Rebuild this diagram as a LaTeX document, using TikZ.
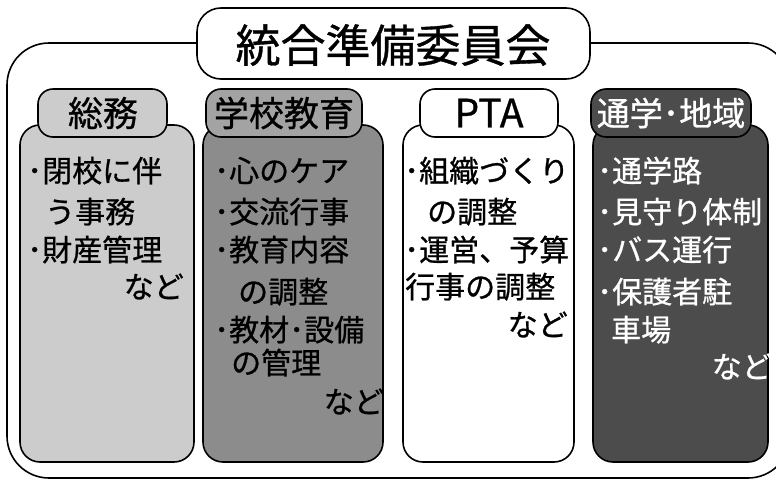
\documentclass[tikz,border=0pt]{standalone}
\usepackage{fontspec}
\newfontfamily\jp[FakeBold=0.8]{Noto Sans CJK JP}
\begin{document}
\begin{tikzpicture}[x=1pt,y=-1pt,
  frame/.style={line width=1.6pt,rounded corners=42pt},
  titlebox/.style={draw,line width=1.6pt,rounded corners=24pt,fill=white},
  bodybox/.style={draw,line width=1.6pt,rounded corners=20pt},
  labelbox/.style={draw,line width=1.6pt,rounded corners=15pt},
  item/.style={anchor=base west,inner sep=0pt,font=\jp\fontsize{30}{36}\selectfont},
  itemr/.style={anchor=base east,inner sep=0pt,font=\jp\fontsize{30}{36}\selectfont},
  lbl/.style={inner sep=0pt,font=\jp\fontsize{35}{40}\selectfont},
]
\useasboundingbox (0,0) rectangle (776,479);
\clip (0,0) rectangle (776,479);
\definecolor{colA}{gray}{0.80}
\definecolor{colB}{gray}{0.55}
\definecolor{colD}{gray}{0.30}
% outer frame
\draw[frame] (7,43) rectangle (790,478);
% title
\draw[titlebox] (197,8) rectangle (590,79);
\node[inner sep=0pt,font=\jp\fontsize{45}{50}\selectfont] (title) at (393,45) {統合準備委員会};
% bodies
\draw[bodybox,fill=colA] (20,125) rectangle (194,462);
\draw[bodybox,fill=colB] (203,125) rectangle (383,462);
\draw[bodybox,fill=white] (403,125) rectangle (574,462);
\draw[bodybox,fill=colD] (593,125) rectangle (768,462);
% labels
\draw[labelbox,fill=colA] (38,89) rectangle (167,137);
\draw[labelbox,fill=colB!80!white] (206,89) rectangle (362,137);
\draw[labelbox,fill=white] (420,89) rectangle (558,137);
\draw[labelbox,fill=colD] (591,89) rectangle (751,137);
\node[lbl] (l1) at (103,113) {総務};
\node[lbl] (l2) at (284,113) {学校教育};
\node[lbl,font=\jp\fontsize{39}{42}\selectfont] (l3) at (489,113) {PTA};
\node[lbl,text=white,font=\jp\fontsize{33}{40}\selectfont] (l4) at (671,113) {通学･地域};
% column 1
\node[item] (a1) at (27,182) {･閉校に伴};
\node[item] (a2) at (45,223) {う事務};
\node[item] (a3) at (27,261) {･財産管理};
\node[itemr] (a4) at (184,298) {など};
% column 2
\node[item] (b1) at (214,182) {･心のケア};
\node[item] (b2) at (214,223) {･交流行事};
\node[item] (b3) at (214,261) {･教育内容};
\node[item] (b4) at (238,303) {の調整};
\node[item] (b5) at (214,341) {･教材･設備};
\node[item] (b6) at (231,374) {の管理};
\node[itemr] (b7) at (384,413) {など};
% column 3
\node[item] (c1) at (404,182) {･組織づくり};
\node[item] (c2) at (427,223) {の調整};
\node[item] (c3) at (404,261) {･運営、予算};
\node[item] (c4) at (405,298) {行事の調整};
\node[itemr] (c5) at (568,336) {など};
% column 4
\begin{scope}[text=white]
\node[item] (d1) at (597,182) {･通学路};
\node[item] (d2) at (597,223) {･見守り体制};
\node[item] (d3) at (597,261) {･バス運行};
\node[item] (d4) at (597,303) {･保護者駐};
\node[item] (d5) at (611,341) {車場};
\node[itemr] (d6) at (772,378) {など};
\end{scope}
\end{tikzpicture}
\end{document}
